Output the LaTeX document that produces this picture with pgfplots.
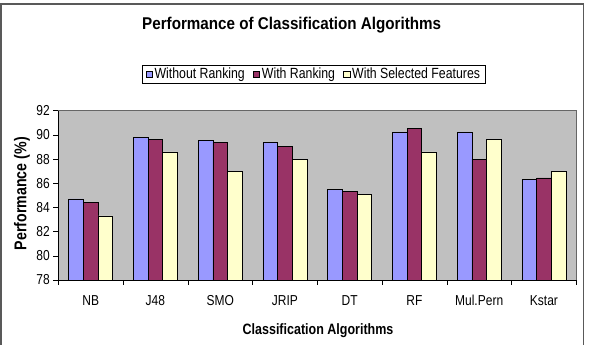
\documentclass[border=0pt]{standalone}
\usepackage{pgfplots}
\pgfplotsset{compat=1.18}
\usepackage{fontspec}
\setmainfont{Liberation Sans}
\definecolor{cblue}{HTML}{9999FF}
\definecolor{cred}{HTML}{993366}
\definecolor{cyel}{HTML}{FFFFCC}
\definecolor{cbg}{HTML}{C0C0C0}
\newcommand{\vs}[1]{\scalebox{1}[1.2]{#1}}
\begin{document}
\begin{tikzpicture}
\path[use as bounding box] (-58.3pt,-65pt) rectangle (531.7pt,280pt);
\draw[line width=1.6pt, gray!70!black] (-57.3pt,-75pt) rectangle (525pt,276pt);
\begin{axis}[
  scale only axis,
  width=518pt, height=169.3pt,
  at={(0,0)}, anchor=south west,
  ybar=0pt, bar width=14.7pt,
  ymin=78, ymax=92, ytick={78,80,...,92},
  yticklabel={\vs{\pgfmathprintnumber{\tick}}},
  xmin=-0.5, xmax=7.5,
  xtick={0,...,7},
  xticklabels={\vs{NB},\vs{J48},\vs{SMO},\vs{JRIP},\vs{DT},\vs{RF},\vs{Mul.Pern},\vs{Kstar}},
  minor xtick={-0.5,0.5,...,7.5},
  major x tick style={draw=none},
  minor x tick style={draw=black},
  tick align=outside,
  major tick length=5pt, minor tick length=5pt,
  axis x line*=bottom, axis y line*=left,
  axis line style={black, line width=0.6pt},
  ytick style={black, line width=0.6pt},
  axis background/.style={fill=cbg, draw=gray!80!black, line width=0.4pt},
  /pgf/number format/assume math mode=true,
  tick label style={font=\fontsize{12}{13}\selectfont},
  xticklabel style={anchor=base, yshift=-21pt},
  title={\scalebox{1}[1.12]{Performance of Classification Algorithms}},
  title style={font=\fontsize{15.2}{17}\selectfont\bfseries, at={(axis description cs:0.4506,1.4471)}, anchor=base},
  xlabel={\vs{Classification Algorithms}},
  xlabel style={font=\fontsize{12.5}{14}\selectfont\bfseries, at={(axis description cs:0.5014,-0.319)}, anchor=base},
  ylabel={\vs{Performance (\%)}},
  ylabel style={font=\fontsize{14.2}{15}\selectfont\bfseries, at={(axis description cs:-0.0701,0.51)}, anchor=center},
  legend columns=3,
  legend style={at={(axis description cs:0.4932,1.2156)}, anchor=center, draw=black, line width=0.6pt,
    font=\fontsize{12.3}{14}\selectfont, inner xsep=3.5pt, inner ysep=1pt,
    /tikz/every even column/.append style={column sep=6pt}},
  legend image code/.code={\draw[#1, draw=black, line width=0.5pt] (0pt,-3.3pt) rectangle (6.6pt,3.3pt);},
]
\addplot[fill=cblue, draw=black, line width=0.6pt] coordinates {(0,84.7) (1,89.8) (2,89.55) (3,89.35) (4,85.5) (5,90.25) (6,90.25) (7,86.35)};
\addplot[fill=cred, draw=black, line width=0.6pt] coordinates {(0,84.4) (1,89.6) (2,89.35) (3,89.05) (4,85.35) (5,90.55) (6,88.0) (7,86.45)};
\addplot[fill=cyel, draw=black, line width=0.6pt] coordinates {(0,83.3) (1,88.6) (2,87.0) (3,88.0) (4,85.1) (5,88.6) (6,89.65) (7,86.95)};
\legend{\vs{Without Ranking}, \vs{With Ranking}, \vs{With Selected Features}}
\end{axis}
\end{tikzpicture}
\end{document}
